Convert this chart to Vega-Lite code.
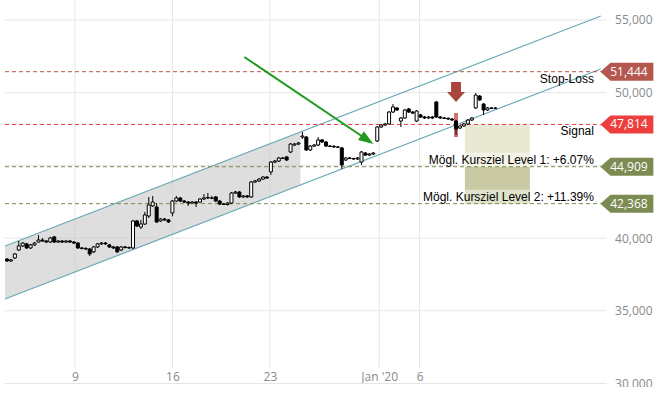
{
  "$schema": "https://vega.github.io/schema/vega-lite/v6.json",
  "width": 657,
  "height": 387,
  "padding": 0,
  "autosize": {"type": "none"},
  "background": "white",
  "config": {
    "view": {"stroke": null},
    "axis": {"labelFont": "Open Sans", "labelFontSize": 12, "labelColor": "#8a8a8a", "title": null}
  },
  "datasets": {
    "grid": [{"v": 30000}, {"v": 35000}, {"v": 40000}, {"v": 45000}, {"v": 50000}, {"v": 55000}],
    "vgrid": [{"g": 17.25}, {"g": 42}, {"g": 66.75}, {"g": 94.5}, {"g": 104.75}],
    "shade": [{"i": -0.5, "lo": 35813, "hi": 39457}, {"i": 74.5, "lo": 43656, "hi": 47300}],
    "channel": [
      {"line": "upper", "i": -0.5, "p": 39457}, {"line": "upper", "i": 150.75, "p": 55275},
      {"line": "lower", "i": -0.5, "p": 35813}, {"line": "lower", "i": 150.75, "p": 51630}
    ],
    "levels": [
      {"k": "Stop-Loss", "v": 51444, "txt": "Stop-Loss"},
      {"k": "Signal", "v": 47814, "txt": "Signal"},
      {"k": "L1", "v": 44909, "txt": "Mögl. Kursziel Level 1: +6.07%"},
      {"k": "L2", "v": 42368, "txt": "Mögl. Kursziel Level 2: +11.39%"}
    ],
    "boxes": [
      {"k": "L1", "x1": 116.25, "x2": 132.75, "y1": 47814, "y2": 44909},
      {"k": "L2", "x1": 116.25, "x2": 132.75, "y1": 44909, "y2": 42368}
    ],
    "labelbg": [
      {"x1": 116.25, "x2": 132.75, "y1": 44909, "y2": 45870},
      {"x1": 116.25, "x2": 132.75, "y1": 42368, "y2": 43330}
    ],
    "arrow": [{"i": 60.25, "p": 52455}, {"i": 91.45, "p": 46761}],
    "candles": [
      {"i":0,"o":38560,"h":38630,"l":38360,"c":38430},
      {"i":1,"o":38430,"h":38560,"l":38360,"c":38500},
      {"i":2,"o":38630,"h":38980,"l":38560,"c":38910},
      {"i":3,"o":39180,"h":39800,"l":39110,"c":39460},
      {"i":4,"o":39460,"h":39730,"l":39390,"c":39660},
      {"i":5,"o":39600,"h":39670,"l":39250,"c":39320},
      {"i":6,"o":39320,"h":39600,"l":39250,"c":39530},
      {"i":7,"o":39530,"h":39730,"l":39460,"c":39660},
      {"i":8,"o":39730,"h":40210,"l":39700,"c":39870},
      {"i":9,"o":39870,"h":40010,"l":39730,"c":39800},
      {"i":10,"o":39800,"h":39870,"l":39660,"c":39730},
      {"i":11,"o":39730,"h":40080,"l":39660,"c":40010},
      {"i":12,"o":40080,"h":40150,"l":39660,"c":39730},
      {"i":13,"o":39730,"h":39870,"l":39660,"c":39800},
      {"i":14,"o":39800,"h":39870,"l":39660,"c":39730},
      {"i":15,"o":39730,"h":39870,"l":39660,"c":39800},
      {"i":16,"o":39800,"h":39870,"l":39660,"c":39730},
      {"i":17,"o":39730,"h":39800,"l":39590,"c":39660},
      {"i":18,"o":39660,"h":39730,"l":39250,"c":39320},
      {"i":19,"o":39320,"h":39390,"l":39220,"c":39290},
      {"i":20,"o":39290,"h":39360,"l":39180,"c":39250},
      {"i":21,"o":39250,"h":39320,"l":38770,"c":38910},
      {"i":22,"o":39050,"h":39460,"l":38980,"c":39390},
      {"i":23,"o":39390,"h":39670,"l":39320,"c":39600},
      {"i":24,"o":39600,"h":39730,"l":39530,"c":39660},
      {"i":25,"o":39660,"h":39730,"l":39530,"c":39600},
      {"i":26,"o":39530,"h":39600,"l":39320,"c":39390},
      {"i":27,"o":39390,"h":39460,"l":39250,"c":39320},
      {"i":28,"o":39390,"h":39460,"l":38980,"c":39050},
      {"i":29,"o":39180,"h":39460,"l":39110,"c":39390},
      {"i":30,"o":39390,"h":39460,"l":39290,"c":39350},
      {"i":31,"o":39350,"h":39420,"l":39250,"c":39320},
      {"i":32,"o":39320,"h":41250,"l":39250,"c":41180},
      {"i":33,"o":41180,"h":41250,"l":40760,"c":40830},
      {"i":34,"o":40760,"h":41250,"l":40630,"c":40970},
      {"i":35,"o":40970,"h":41800,"l":40900,"c":41590},
      {"i":36,"o":41520,"h":42830,"l":41380,"c":42280},
      {"i":37,"o":42210,"h":42900,"l":42140,"c":42480},
      {"i":38,"o":42140,"h":42410,"l":41040,"c":41110},
      {"i":39,"o":41180,"h":41380,"l":41110,"c":41310},
      {"i":40,"o":41310,"h":41380,"l":41180,"c":41250},
      {"i":41,"o":41250,"h":41310,"l":41040,"c":41110},
      {"i":42,"o":41730,"h":42620,"l":41500,"c":42550},
      {"i":43,"o":42550,"h":42900,"l":42480,"c":42760},
      {"i":44,"o":42760,"h":42830,"l":42480,"c":42550},
      {"i":45,"o":42550,"h":42620,"l":42410,"c":42480},
      {"i":46,"o":42480,"h":42550,"l":42210,"c":42410},
      {"i":47,"o":42410,"h":42550,"l":42340,"c":42480},
      {"i":48,"o":42480,"h":42550,"l":42140,"c":42410},
      {"i":49,"o":42480,"h":42760,"l":42410,"c":42690},
      {"i":50,"o":42690,"h":43030,"l":42620,"c":42760},
      {"i":51,"o":42760,"h":43100,"l":42690,"c":42790},
      {"i":52,"o":42760,"h":42900,"l":42690,"c":42740},
      {"i":53,"o":42830,"h":42900,"l":42480,"c":42550},
      {"i":54,"o":42550,"h":42620,"l":42280,"c":42340},
      {"i":55,"o":42340,"h":42410,"l":42280,"c":42310},
      {"i":56,"o":42310,"h":42480,"l":42240,"c":42410},
      {"i":57,"o":42410,"h":43170,"l":42340,"c":43100},
      {"i":58,"o":43100,"h":43240,"l":43030,"c":43170},
      {"i":59,"o":43170,"h":43240,"l":42760,"c":42830},
      {"i":60,"o":42830,"h":42960,"l":42760,"c":42900},
      {"i":61,"o":42900,"h":42960,"l":42760,"c":42830},
      {"i":62,"o":42830,"h":43930,"l":42760,"c":43860},
      {"i":63,"o":43860,"h":44000,"l":43790,"c":43930},
      {"i":64,"o":43930,"h":44130,"l":43860,"c":44060},
      {"i":65,"o":44060,"h":44270,"l":44000,"c":44200},
      {"i":66,"o":44200,"h":44270,"l":44060,"c":44130},
      {"i":67,"o":44550,"h":45300,"l":44340,"c":45230},
      {"i":68,"o":45230,"h":45370,"l":45160,"c":45300},
      {"i":69,"o":45300,"h":45580,"l":45230,"c":45510},
      {"i":70,"o":45510,"h":45580,"l":45440,"c":45480},
      {"i":71,"o":45580,"h":45650,"l":45300,"c":45370},
      {"i":72,"o":45920,"h":46540,"l":45850,"c":46470},
      {"i":73,"o":46400,"h":46540,"l":46330,"c":46470},
      {"i":74,"o":46470,"h":46610,"l":46400,"c":46540},
      {"i":75,"o":46950,"h":47300,"l":46820,"c":47020},
      {"i":76,"o":46950,"h":47020,"l":45990,"c":46060},
      {"i":77,"o":46060,"h":46400,"l":45990,"c":46330},
      {"i":78,"o":46330,"h":46470,"l":46260,"c":46400},
      {"i":79,"o":46400,"h":46950,"l":46330,"c":46750},
      {"i":80,"o":46750,"h":46820,"l":46540,"c":46610},
      {"i":81,"o":46610,"h":46680,"l":46260,"c":46330},
      {"i":82,"o":46330,"h":46400,"l":46260,"c":46310},
      {"i":83,"o":46310,"h":46400,"l":46200,"c":46270},
      {"i":84,"o":46270,"h":46330,"l":46200,"c":46250},
      {"i":85,"o":46200,"h":46270,"l":44750,"c":45030},
      {"i":86,"o":45370,"h":45580,"l":45300,"c":45510},
      {"i":87,"o":45510,"h":45580,"l":45440,"c":45480},
      {"i":88,"o":45480,"h":45510,"l":45370,"c":45440},
      {"i":89,"o":45440,"h":45580,"l":45370,"c":45510},
      {"i":90,"o":45230,"h":45990,"l":45030,"c":45920},
      {"i":91,"o":45850,"h":45920,"l":45650,"c":45710},
      {"i":92,"o":45710,"h":45850,"l":45650,"c":45780},
      {"i":93,"o":45780,"h":45920,"l":45710,"c":45850},
      {"i":94,"o":46680,"h":47710,"l":46610,"c":47640},
      {"i":95,"o":47640,"h":47850,"l":47570,"c":47780},
      {"i":96,"o":47780,"h":47920,"l":47710,"c":47850},
      {"i":97,"o":47850,"h":48740,"l":47780,"c":48670},
      {"i":98,"o":48670,"h":49220,"l":48600,"c":49020},
      {"i":99,"o":48950,"h":49020,"l":48740,"c":48810},
      {"i":100,"o":48050,"h":48330,"l":47640,"c":48260},
      {"i":101,"o":48260,"h":48880,"l":48190,"c":48810},
      {"i":102,"o":48880,"h":48950,"l":48600,"c":48670},
      {"i":103,"o":48670,"h":48740,"l":48530,"c":48600},
      {"i":104,"o":48050,"h":48810,"l":47990,"c":48740},
      {"i":105,"o":48470,"h":48540,"l":48260,"c":48330},
      {"i":106,"o":48330,"h":48400,"l":48190,"c":48260},
      {"i":107,"o":48260,"h":48400,"l":48190,"c":48330},
      {"i":108,"o":48330,"h":48400,"l":48190,"c":48260},
      {"i":109,"o":49360,"h":49430,"l":48260,"c":48330},
      {"i":110,"o":48330,"h":48400,"l":48190,"c":48260},
      {"i":111,"o":48260,"h":48330,"l":48190,"c":48240},
      {"i":112,"o":48240,"h":48300,"l":48120,"c":48190},
      {"i":113,"o":48190,"h":48260,"l":48050,"c":48120},
      {"i":114,"o":48050,"h":48120,"l":47090,"c":47500},
      {"i":115,"o":47570,"h":47780,"l":47500,"c":47710},
      {"i":116,"o":47710,"h":47920,"l":47640,"c":47850},
      {"i":117,"o":47850,"h":48190,"l":47780,"c":48120},
      {"i":118,"o":48120,"h":48330,"l":48050,"c":48260},
      {"i":119,"o":48950,"h":49980,"l":48880,"c":49840},
      {"i":120,"o":49770,"h":49840,"l":49430,"c":49500},
      {"i":121,"o":49220,"h":49290,"l":48470,"c":48810},
      {"i":122,"o":48810,"h":49020,"l":48740,"c":48950},
      {"i":123,"o":48950,"h":49020,"l":48880,"c":48920},
      {"i":124,"o":48920,"h":49020,"l":48880,"c":48950}
    ]
  },
  "layer": [
    {
      "data": {"name": "grid"},
      "mark": {"type": "rule", "color": "#e6e6e6", "strokeWidth": 1},
      "encoding": {
        "y": {"field": "v", "type": "quantitative",
          "scale": {"domain": [29759, 56375], "nice": false, "zero": false},
          "axis": {"orient": "right", "values": [30000, 35000, 40000, 50000, 55000], "format": ",d",
            "grid": false, "ticks": false, "tickSize": 0, "domain": true, "domainColor": "#dcdcdc",
            "labelAlign": "right", "labelPadding": -5, "labelOverlap": false, "labelFlush": false, "labelBound": false, "title": null, "zindex": 0}},
        "x": {"datum": -0.5, "type": "quantitative",
          "scale": {"domain": [-0.5, 163.75], "nice": false, "zero": false},
          "axis": {"orient": "bottom", "values": [17.25, 42, 66.75, 94.5, 104.75],
            "labelExpr": "datum.value < 20 ? '9' : datum.value < 50 ? '16' : datum.value < 80 ? '23' : datum.value < 100 ? \"Jan '20\" : '6'",
            "grid": false, "ticks": false, "tickSize": 0, "domain": true, "domainColor": "#dcdcdc",
            "labelPadding": -11, "labelBaseline": "middle", "labelOverlap": false, "labelFlush": false, "labelBound": false, "title": null, "zindex": 0}},
        "x2": {"datum": 152.25}
      }
    },
    {
      "data": {"name": "vgrid"},
      "mark": {"type": "rule", "color": "#e6e6e6", "strokeWidth": 1},
      "encoding": {
        "x": {"field": "g", "type": "quantitative"},
        "y": {"datum": 56375, "type": "quantitative"},
        "y2": {"datum": 31068}
      }
    },
    {
      "data": {"name": "shade"},
      "mark": {"type": "area", "color": "#c8c8c8", "opacity": 0.6},
      "encoding": {
        "x": {"field": "i", "type": "quantitative"},
        "y": {"field": "hi", "type": "quantitative"},
        "y2": {"field": "lo"}
      }
    },
    {
      "data": {"name": "boxes"},
      "mark": {"type": "rect"},
      "encoding": {
        "x": {"field": "x1", "type": "quantitative"},
        "x2": {"field": "x2"},
        "y": {"field": "y1", "type": "quantitative"},
        "y2": {"field": "y2"},
        "fill": {"condition": {"test": "datum.k == 'L1'", "value": "#e9e9d3"}, "value": "#c9caa3"}
      }
    },
    {
      "data": {"name": "labelbg"},
      "mark": {"type": "rect", "color": "white", "opacity": 0.45},
      "encoding": {
        "x": {"field": "x1", "type": "quantitative"},
        "x2": {"field": "x2"},
        "y": {"field": "y1", "type": "quantitative"},
        "y2": {"field": "y2"}
      }
    },
    {
      "data": {"name": "channel"},
      "mark": {"type": "line", "color": "#6aaab5", "strokeWidth": 1.2},
      "encoding": {
        "x": {"field": "i", "type": "quantitative"},
        "y": {"field": "p", "type": "quantitative"},
        "detail": {"field": "line"}
      }
    },
    {
      "data": {"name": "levels"},
      "mark": {"type": "rule", "strokeDash": [4, 3], "strokeWidth": 1},
      "encoding": {
        "y": {"field": "v", "type": "quantitative"},
        "x": {"datum": -0.5, "type": "quantitative"},
        "x2": {"datum": 150.75},
        "color": {"field": "k", "type": "nominal", "legend": null, "scale": {"domain": ["Stop-Loss", "Signal", "L1", "L2"], "range": ["#b5564f", "#ee3f3f", "#7b8b52", "#7b8b52"]}}
      }
    },
    {
      "data": {"values": [{"s": "signal"}]},
      "mark": {"type": "rule", "color": "#c0504d", "strokeWidth": 4, "opacity": 0.8},
      "encoding": {
        "x": {"datum": 114, "type": "quantitative"},
        "y": {"datum": 48604, "type": "quantitative"},
        "y2": {"datum": 46952}
      }
    },
    {
      "data": {"name": "candles"},
      "mark": {"type": "rule", "color": "black", "strokeWidth": 1},
      "encoding": {
        "x": {"field": "i", "type": "quantitative"},
        "y": {"field": "l", "type": "quantitative"},
        "y2": {"field": "h"}
      }
    },
    {
      "data": {"name": "candles"},
      "mark": {"type": "bar", "width": 3, "stroke": "black", "strokeWidth": 1},
      "encoding": {
        "x": {"field": "i", "type": "quantitative"},
        "y": {"field": "o", "type": "quantitative"},
        "y2": {"field": "c"},
        "fill": {"condition": {"test": "datum.c >= datum.o", "value": "white"}, "value": "black"}
      }
    },
    {
      "data": {"name": "arrow"},
      "mark": {"type": "line", "color": "#1f9a1f", "strokeWidth": 2},
      "encoding": {
        "x": {"field": "i", "type": "quantitative"},
        "y": {"field": "p", "type": "quantitative"}
      }
    },
    {
      "data": {"values": [{"s": "head"}]},
      "mark": {"type": "point", "shape": "M1,0L-1,-0.7L-1,0.7Z", "filled": true, "color": "#1f9a1f", "opacity": 1, "size": 225, "angle": 33.6},
      "encoding": {
        "x": {"datum": 91.45, "type": "quantitative"},
        "y": {"datum": 46761, "type": "quantitative"}
      }
    },
    {
      "data": {"values": [{"s": "down"}]},
      "mark": {"type": "point", "shape": "M-0.55,-1.1L0.55,-1.1L0.55,0L1,0L0,1.1L-1,0L-0.55,0Z", "filled": true, "color": "#a9443f", "opacity": 1, "size": 324},
      "encoding": {
        "x": {"datum": 114, "type": "quantitative"},
        "y": {"datum": 50048, "type": "quantitative"}
      }
    },
    {
      "data": {"name": "levels"},
      "transform": [{"filter": "datum.k == 'Stop-Loss' || datum.k == 'Signal'"}],
      "mark": {"type": "text", "align": "right", "baseline": "middle", "dy": 7, "font": "Liberation Sans", "fontSize": 12, "color": "black"},
      "encoding": {
        "x": {"datum": 149, "type": "quantitative"},
        "y": {"field": "v", "type": "quantitative"},
        "text": {"field": "txt"}
      }
    },
    {
      "data": {"name": "levels"},
      "transform": [{"filter": "datum.k == 'L1' || datum.k == 'L2'"}],
      "mark": {"type": "text", "align": "right", "baseline": "middle", "dy": -7, "font": "Liberation Sans", "fontSize": 12, "color": "black"},
      "encoding": {
        "x": {"datum": 149, "type": "quantitative"},
        "y": {"field": "v", "type": "quantitative"},
        "text": {"field": "txt"}
      }
    },
    {
      "data": {"name": "levels"},
      "mark": {"type": "point", "shape": "M-1,0L-0.62,-0.34L1,-0.34L1,0.34L-0.62,0.34Z", "filled": true, "opacity": 1, "size": 2809, "strokeWidth": 0},
      "encoding": {
        "x": {"datum": 157.375, "type": "quantitative"},
        "y": {"field": "v", "type": "quantitative"},
        "color": {"field": "k", "type": "nominal", "legend": null}
      }
    },
    {
      "data": {"name": "levels"},
      "mark": {"type": "text", "align": "center", "baseline": "middle", "font": "Open Sans", "fontSize": 12, "color": "white"},
      "encoding": {
        "x": {"datum": 157.9, "type": "quantitative"},
        "y": {"field": "v", "type": "quantitative"},
        "text": {"field": "v", "type": "quantitative", "format": ",d"}
      }
    }
  ]
}
